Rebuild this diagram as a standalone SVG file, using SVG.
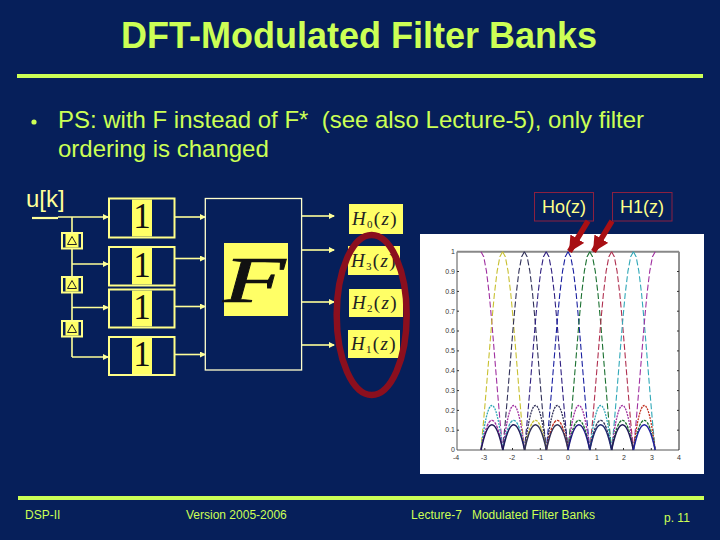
<svg xmlns="http://www.w3.org/2000/svg" xmlns:xlink="http://www.w3.org/1999/xlink" width="720" height="540" viewBox="0 0 720 540">
<style>
text{white-space:pre}
.sans{font-family:"Liberation Sans",Arial,sans-serif}
.serif{font-family:"Liberation Serif","Times New Roman",serif}
.g{fill:#ccff55}
.conn{stroke:#ffff99;stroke-width:1.6;fill:none}
.block{fill:#061f5a;stroke:#ffff88;stroke-width:2}
.yel{fill:#ffff66}
.one{font-family:"Liberation Serif",serif;font-size:35px;fill:#111;text-anchor:middle}
.hl{font-family:"Liberation Serif",serif;font-size:19px;fill:#222;letter-spacing:1.3px}
.hl .i{font-style:italic}
.hl .s{font-size:11px}
.foot{font-family:"Liberation Sans",sans-serif;font-size:12px;fill:#ccff55}
.ax{font-family:"Liberation Sans",sans-serif;font-size:7px;fill:#333}
.ay{text-anchor:end}
.ac{text-anchor:middle}
.lobe{fill:none;stroke-width:1.1;stroke-dasharray:6 2.5}
.arc1{fill:none;stroke-width:1.3;stroke-dasharray:2 1}
.arc2{fill:none;stroke-width:1.3;stroke-dasharray:3 1}
.arc3{fill:none;stroke-width:1.5}
.red{fill:none;stroke:#8b2040;stroke-width:1}
.lab{font-family:"Liberation Sans",sans-serif;font-size:18px;fill:#ffff88;text-anchor:middle}
</style>
<defs>
<marker id="ah" markerUnits="userSpaceOnUse" markerWidth="6" markerHeight="6" refX="5" refY="3" orient="auto"><path d="M0 0L6 3L0 6z" fill="#ffff99"/></marker>
<marker id="rh" markerUnits="userSpaceOnUse" markerWidth="16" markerHeight="16" refX="15" refY="8" orient="auto"><path d="M0 0L16 8L0 16z" fill="#a80f14"/></marker>
<polyline id="lr" points="0,-198.3 2.7,-193.3 5.45,-178.8 8.2,-156 10.9,-127 13.6,-94 16.35,-60.4 19.1,-28 21.8,0"/>
<polyline id="ll" points="0,-198.3 -2.7,-193.3 -5.45,-178.8 -8.2,-156 -10.9,-127 -13.6,-94 -16.35,-60.4 -19.1,-28 -21.8,0"/>
<path id="a1" d="M0 0Q10.9 -89 21.8 0"/>
<path id="a2" d="M0 0Q10.9 -59.4 21.8 0"/>
<path id="a3" d="M0 0Q10.9 -50.4 21.8 0"/>
<g id="delay">
<rect x="0" y="0" width="22" height="17.5" fill="#ffff88"/>
<rect x="2" y="2" width="18" height="13.5" fill="#061f5a"/>
<rect x="4.5" y="2" width="13" height="13.5" fill="#ffff66"/>
<path d="M11 4.5L6.5 12.5H15.5Z" fill="none" stroke="#222" stroke-width="1"/>
</g>
</defs>
<rect width="720" height="540" fill="#061f5a"/>

<g id="title">
<text x="359" y="48" text-anchor="middle" class="sans g" font-size="36" font-weight="bold">DFT-Modulated Filter Banks</text>
<rect x="17" y="74" width="686" height="4" fill="#ccff55"/>
</g>
<g id="bullet">
<circle cx="34" cy="122" r="2.600" fill="#ccff55"/>
<text x="58" y="128" class="sans g" font-size="24" textLength="586" lengthAdjust="spacingAndGlyphs">PS: with F instead of F*  (see also Lecture-5), only filter</text>
<text x="58" y="157" class="sans g" font-size="24">ordering is changed</text>
</g>

<g id="connectors">
<path class="conn" d="M58 217H108" marker-end="url(#ah)"/>
<path d="M32 218H58" stroke="#ffff99" stroke-width="2.2"/>
<path class="conn" d="M72 217V357"/>
<path class="conn" d="M72 264H108" marker-end="url(#ah)"/>
<path class="conn" d="M72 307.500H108" marker-end="url(#ah)"/>
<path class="conn" d="M72 357H108" marker-end="url(#ah)"/>
<path class="conn" d="M175 217H205" marker-end="url(#ah)"/>
<path class="conn" d="M175 258.500H205" marker-end="url(#ah)"/>
<path class="conn" d="M175 306.500H205" marker-end="url(#ah)"/>
<path class="conn" d="M175 354.500H205" marker-end="url(#ah)"/>
<path class="conn" d="M302 216H334" marker-end="url(#ah)"/>
<path class="conn" d="M302 250H334" marker-end="url(#ah)"/>
<path class="conn" d="M302 302H334" marker-end="url(#ah)"/>
<path class="conn" d="M302 345H334" marker-end="url(#ah)"/>
</g>

<g id="input"><text x="26" y="207" class="sans" font-size="24" fill="#ffff99">u[k]</text></g>
<use id="delay1" xlink:href="#delay" href="#delay" x="61" y="232"/>
<use id="delay2" xlink:href="#delay" href="#delay" x="61" y="276"/>
<use id="delay3" xlink:href="#delay" href="#delay" x="61" y="320"/>

<g id="block1"><rect class="block" x="109" y="198.500" width="65.500" height="39"/><rect class="yel" x="132" y="199.500" width="20" height="37"/><text class="one" x="142" y="228">1</text></g>
<g id="block2"><rect class="block" x="109" y="247" width="65.500" height="38.500"/><rect class="yel" x="132" y="248" width="20" height="36.500"/><text class="one" x="142" y="277">1</text></g>
<g id="block3"><rect class="block" x="109" y="289.500" width="65.500" height="38"/><rect class="yel" x="132" y="290.500" width="20" height="36"/><text class="one" x="142" y="319">1</text></g>
<g id="block4"><rect class="block" x="109" y="337" width="65.500" height="38"/><rect class="yel" x="132" y="338" width="20" height="36"/><text class="one" x="142" y="366">1</text></g>

<g id="dft">
<rect x="205.300" y="198.500" width="96.300" height="171.500" fill="#061f5a" stroke="#ffffcc" stroke-width="1.300"/>
<rect class="yel" x="224" y="243" width="64" height="73"/>
<text transform="translate(223 302) scale(1.55 1)" class="serif" font-size="66" font-style="italic" fill="#111" stroke="#111" stroke-width="0.7">F</text>
</g>

<g id="h0"><rect class="yel" x="349" y="204" width="54" height="30"/><text class="hl" x="352" y="225"><tspan class="i">H</tspan><tspan class="s" dy="3">0</tspan><tspan dy="-3">(</tspan><tspan class="i">z</tspan>)</text></g>
<g id="h3"><rect class="yel" x="348" y="246" width="52" height="29"/><text class="hl" x="351" y="267"><tspan class="i">H</tspan><tspan class="s" dy="3">3</tspan><tspan dy="-3">(</tspan><tspan class="i">z</tspan>)</text></g>
<g id="h2"><rect class="yel" x="349" y="289" width="54" height="28"/><text class="hl" x="352" y="309"><tspan class="i">H</tspan><tspan class="s" dy="3">2</tspan><tspan dy="-3">(</tspan><tspan class="i">z</tspan>)</text></g>
<g id="h1"><rect class="yel" x="348" y="330" width="52" height="28"/><text class="hl" x="351" y="350"><tspan class="i">H</tspan><tspan class="s" dy="3">1</tspan><tspan dy="-3">(</tspan><tspan class="i">z</tspan>)</text></g>

<ellipse id="highlight" cx="371.700" cy="315" rx="35" ry="80" fill="none" stroke="#8b0f1e" stroke-width="6.500"/>

<g id="plot">
<rect x="420" y="234" width="284" height="240" fill="#fff"/>
<path d="M457 251.700V450H679" fill="none" stroke="#555" stroke-width="1"/>
<path d="M679 251.700V450" fill="none" stroke="#222" stroke-width="1"/>
<path d="M457 251.700H679" fill="none" stroke="#888" stroke-width="2"/>
<path d="M457 430.200h2M457 410.400h2M457 390.600h2M457 370.700h2M457 350.900h2M457 331h2M457 311.200h2M457 291.400h2M457 271.500h2M679 430.200h-2M679 410.400h-2M679 390.600h-2M679 370.700h-2M679 350.900h-2M679 331h-2M679 311.200h-2M679 291.400h-2M679 271.500h-2M484.800 450v-2M512.500 450v-2M540.300 450v-2M568 450v-2M595.800 450v-2M623.500 450v-2M651.300 450v-2" stroke="#333" stroke-width="1"/>
<g class="ax ay">
<text x="455" y="254">1</text><text x="455" y="274">0.9</text><text x="455" y="294">0.8</text><text x="455" y="314">0.7</text><text x="455" y="333">0.6</text><text x="455" y="353">0.5</text><text x="455" y="373">0.4</text><text x="455" y="393">0.3</text><text x="455" y="413">0.2</text><text x="455" y="432">0.1</text><text x="455" y="452">0</text>
</g>
<g class="ax ac">
<text x="456" y="460">-4</text><text x="484" y="460">-3</text><text x="512" y="460">-2</text><text x="540" y="460">-1</text><text x="568" y="460">0</text><text x="597" y="460">1</text><text x="624" y="460">2</text><text x="652" y="460">3</text><text x="679" y="460">4</text>
</g>
<g id="main-lobes" class="lobe">
<use xlink:href="#lr" href="#lr" x="481" y="450" stroke="#a030a0"/>
<g stroke="#c8c030"><use xlink:href="#lr" href="#lr" x="502.600" y="450"/><use xlink:href="#ll" href="#ll" x="502.600" y="450"/></g>
<g stroke="#303058"><use xlink:href="#lr" href="#lr" x="524.400" y="450"/><use xlink:href="#ll" href="#ll" x="524.400" y="450"/></g>
<g stroke="#302080"><use xlink:href="#lr" href="#lr" x="546.200" y="450"/><use xlink:href="#ll" href="#ll" x="546.200" y="450"/></g>
<g stroke="#1a20a0"><use xlink:href="#lr" href="#lr" x="568" y="450"/><use xlink:href="#ll" href="#ll" x="568" y="450"/></g>
<g stroke="#1a7030"><use xlink:href="#lr" href="#lr" x="589.800" y="450"/><use xlink:href="#ll" href="#ll" x="589.800" y="450"/></g>
<g stroke="#b03050"><use xlink:href="#lr" href="#lr" x="611.600" y="450"/><use xlink:href="#ll" href="#ll" x="611.600" y="450"/></g>
<g stroke="#30a8b8"><use xlink:href="#lr" href="#lr" x="633.400" y="450"/><use xlink:href="#ll" href="#ll" x="633.400" y="450"/></g>
<use xlink:href="#ll" href="#ll" x="655.200" y="450" stroke="#a030a0"/>
</g>
<g id="arches-top" class="arc1">
<use xlink:href="#a1" href="#a1" x="481" y="450" stroke="#30a8b8"/><use xlink:href="#a1" href="#a1" x="502.800" y="450" stroke="#a030a0"/><use xlink:href="#a1" href="#a1" x="524.600" y="450" stroke="#303058"/><use xlink:href="#a1" href="#a1" x="546.400" y="450" stroke="#303058"/><use xlink:href="#a1" href="#a1" x="568" y="450" stroke="#a030a0"/><use xlink:href="#a1" href="#a1" x="589.800" y="450" stroke="#30a8b8"/><use xlink:href="#a1" href="#a1" x="611.600" y="450" stroke="#a030a0"/><use xlink:href="#a1" href="#a1" x="633.400" y="450" stroke="#c03020"/>
</g>
<g id="arches-mid" class="arc2">
<use xlink:href="#a2" href="#a2" x="481" y="450" stroke="#a030a0"/><use xlink:href="#a2" href="#a2" x="502.800" y="450" stroke="#30a8b8"/><use xlink:href="#a2" href="#a2" x="524.600" y="450" stroke="#c8c030"/><use xlink:href="#a2" href="#a2" x="546.400" y="450" stroke="#c03020"/><use xlink:href="#a2" href="#a2" x="568" y="450" stroke="#1a7030"/><use xlink:href="#a2" href="#a2" x="589.800" y="450" stroke="#303058"/><use xlink:href="#a2" href="#a2" x="611.600" y="450" stroke="#1a7030"/><use xlink:href="#a2" href="#a2" x="633.400" y="450" stroke="#1a7030"/>
</g>
<g id="arches-low" class="arc3">
<use xlink:href="#a3" href="#a3" x="481" y="450" stroke="#201858"/><use xlink:href="#a3" href="#a3" x="502.800" y="450" stroke="#201858"/><use xlink:href="#a3" href="#a3" x="524.600" y="450" stroke="#303058"/><use xlink:href="#a3" href="#a3" x="546.400" y="450" stroke="#303058"/><use xlink:href="#a3" href="#a3" x="568" y="450" stroke="#201880"/><use xlink:href="#a3" href="#a3" x="589.800" y="450" stroke="#202870"/><use xlink:href="#a3" href="#a3" x="611.600" y="450" stroke="#201858"/><use xlink:href="#a3" href="#a3" x="633.400" y="450" stroke="#2020a0"/>
</g>
</g>

<g id="label-h0"><rect class="red" x="534.500" y="192.500" width="59" height="28.500"/><text class="lab" x="564" y="213">Ho(z)</text></g>
<g id="label-h1"><rect class="red" x="612.500" y="192.500" width="59.500" height="28.500"/><text class="lab" x="642" y="213">H1(z)</text></g>
<g id="red-arrows" fill="none" stroke="#a80f14" stroke-width="5.500">
<path d="M588 221L569.500 251.500" marker-end="url(#rh)"/>
<path d="M612 221L593.500 251.500" marker-end="url(#rh)"/>
</g>

<g id="footer">
<rect x="18" y="496" width="686" height="4" fill="#ccff55"/>
<text class="foot" x="25" y="519">DSP-II</text>
<text class="foot" x="186" y="519">Version 2005-2006</text>
<text class="foot" x="411" y="519" textLength="184" lengthAdjust="spacing">Lecture-7   Modulated Filter Banks</text>
<text class="foot" x="664" y="522">p. 11</text>
</g>
</svg>
